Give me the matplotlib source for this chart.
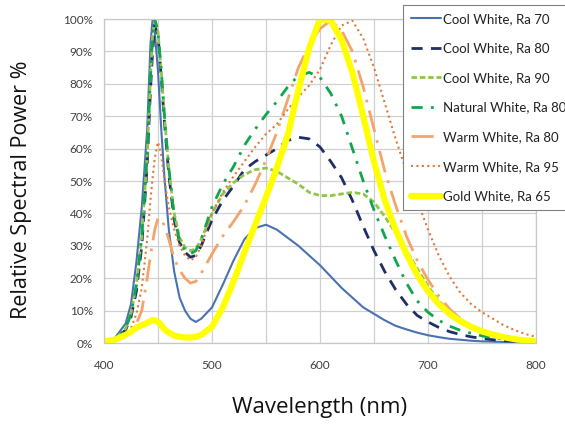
import matplotlib
matplotlib.use("Agg")
import matplotlib.pyplot as plt
from matplotlib.ticker import MultipleLocator, FuncFormatter

wavelength = [400, 410, 420, 425, 430, 435, 440, 443, 445, 447, 450, 453, 456, 460, 465, 470, 475,
              480, 485, 490, 500, 510, 520, 530, 540, 550, 560, 570, 580, 590, 600, 610, 620, 630,
              640, 650, 660, 670, 680, 690, 700, 710, 720, 730, 740, 750, 760, 770, 780, 790, 800]

cool_ra70 = [0, 1.5, 6, 12, 25, 42, 66, 92, 100, 96, 84, 66, 51, 35, 22, 14, 10,
             7.5, 6.5, 7.5, 11, 18, 25.5, 32, 35.5, 36.5, 35, 32.5, 30, 27, 24, 20.5, 17, 14,
             11, 9, 7, 5.3, 4.2, 3.2, 2.4, 1.8, 1.3, 1.0, 0.7, 0.5, 0.4, 0.3, 0.2, 0.15, 0.1]

cool_ra80 = [0, 1, 4, 8, 16, 30, 55, 78, 90, 98, 95, 82, 68, 52, 38, 31, 28,
             26.5, 27, 30, 38, 44, 48.5, 53.5, 56, 58, 60, 62.5, 63.5, 63, 60.5, 56, 51, 44,
             36, 28.5, 22, 16.5, 12, 8.5, 6.5, 4.8, 3.5, 2.6, 1.9, 1.4, 1.0, 0.7, 0.5, 0.3, 0.2]

cool_ra90 = [0, 1, 4.5, 9, 18, 33, 58, 82, 95, 100, 96, 84, 70, 54, 40, 32.5, 29.5,
             28.5, 29, 32, 40, 46, 49.5, 52, 53.5, 54, 53, 51, 49, 46.5, 45.5, 45.5, 46, 46.5,
             46, 43.5, 39, 34, 28.5, 23, 17.5, 13, 9.8, 7.3, 5.4, 4, 2.9, 2.0, 1.3, 0.8, 0.5]

natural_ra80 = [0, 1, 4.5, 9, 18, 33, 58, 82, 95, 100, 96, 84, 70, 54, 39, 31.5, 28.5,
                27.5, 28.5, 32, 42, 49, 54.5, 61, 66, 70.5, 74.5, 79, 82.5, 83.5, 82, 77, 70, 60,
                50, 41, 33, 25.5, 18.5, 13, 9.5, 7, 5.2, 3.9, 3, 2.2, 1.6, 1.2, 0.9, 0.6, 0.4]

warm_ra80 = [0, 0.5, 2, 3.5, 6, 10, 20, 27, 31, 35, 38.5, 38.5, 36, 32, 26, 22.5, 20,
             18.5, 19, 21.5, 27.5, 33, 37.5, 42.5, 49, 56.5, 65, 75, 85, 92, 97, 99.5, 96.5, 90,
             79, 66, 53, 42.5, 33, 25.5, 19.5, 14.5, 10.5, 7.5, 5.2, 3.6, 2.5, 1.7, 1.1, 0.6, 0.3]

warm_ra95 = [0, 0.5, 2.5, 4.5, 9, 17, 32, 44, 51, 57, 62, 58, 50, 42, 35, 30, 27,
             25.5, 26.5, 30, 40, 46.5, 51.5, 56, 60.5, 64.5, 67.5, 72, 76, 79.5, 84.5, 92, 98, 99.5,
             94, 85, 74, 63, 53, 44, 35, 27, 20.5, 15.5, 12, 9.5, 7.5, 5.5, 4, 2.8, 1.9]

gold_ra65 = [0.5, 1, 2.5, 3.5, 4.8, 5.5, 6.2, 6.8, 7, 7, 6.5, 5.5, 4.2, 3.2, 2.3, 1.9, 1.7,
             1.7, 1.9, 2.5, 5, 11, 19, 28, 36.5, 45, 54, 64, 78, 91, 100, 99.5, 93.5, 83.5,
             70, 56, 44, 35, 27.5, 21, 16, 12, 9, 6.7, 5, 3.6, 2.6, 1.8, 1.2, 0.8, 0.5]

labels = ["Cool White, Ra 70", "Cool White, Ra 80", "Cool White, Ra 90", "Natural White, Ra 80",
          "Warm White, Ra 80", "Warm White, Ra 95", "Gold White, Ra 65"]
series = [cool_ra70, cool_ra80, cool_ra90, natural_ra80, warm_ra80, warm_ra95, gold_ra65]

styles = [
    dict(color="#4A72B0", lw=1.5, ls="-"),
    dict(color="#1F2F66", lw=2.0, ls=(0, (4, 3))),
    dict(color="#92C44C", lw=2.0, ls=(0, (2, 1))),
    dict(color="#10A650", lw=2.0, ls=(0, (4, 3, 1, 3))),
    dict(color="#F4A46A", lw=2.0, ls=(0, (8, 3, 1, 3))),
    dict(color="#E07A35", lw=1.5, ls=(0, (1, 1.6))),
    dict(color="#FFFF00", lw=4.5, ls="-"),
]

fig = plt.figure(figsize=(5.65, 4.24), dpi=100)
ax = fig.add_axes([104 / 565, 1 - 343 / 424, (536 - 104) / 565, (343 - 19) / 424])

for vals, lab, st in zip(series, labels, styles):
    ax.plot(wavelength, vals, label=lab, solid_joinstyle="round", solid_capstyle="round",
            dash_joinstyle="round", **st)

ax.set_xlim(400, 800)
ax.set_ylim(0, 100)
ax.xaxis.set_major_locator(MultipleLocator(100))
ax.xaxis.set_minor_locator(MultipleLocator(50))
ax.yaxis.set_major_locator(MultipleLocator(10))
ax.yaxis.set_major_formatter(FuncFormatter(lambda v, p: f"{int(v)}%"))
ax.grid(True, which="both", color="#D0D0D0", lw=0.9)
ax.set_axisbelow(True)
for s in ax.spines.values():
    s.set_color("#C8C8C8")
    s.set_linewidth(0.9)
ax.tick_params(which="both", length=0, colors="#404040", labelsize=8.5)
for t in ax.get_xticklabels() + ax.get_yticklabels():
    t.set_fontfamily("Lato")
ax.tick_params(axis="x", pad=12)
ax.tick_params(axis="y", pad=8)

fig.text(320 / 565, 1 - 407 / 424, "Wavelength (nm)", ha="center", va="center",
         fontsize=16, family="Open Sans", color="#111111")
fig.text(22 / 565, 1 - 190 / 424, "Relative Spectral Power %", ha="center", va="center",
         rotation=90, fontsize=15.5, family="Open Sans", color="#111111")

leg = ax.legend(loc="upper left", bbox_to_anchor=(403 / 565, 1 - 5 / 424),
                bbox_transform=fig.transFigure, borderaxespad=0, fancybox=False,
                framealpha=1, edgecolor="#808080", prop={"family": "Lato", "size": 9.5},
                handlelength=2.3, handletextpad=0.1, labelspacing=1.33, borderpad=0.6)
leg.get_frame().set_linewidth(0.8)
for t in leg.get_texts():
    t.set_color("#222222")

fig.savefig("out.png", dpi=100)
